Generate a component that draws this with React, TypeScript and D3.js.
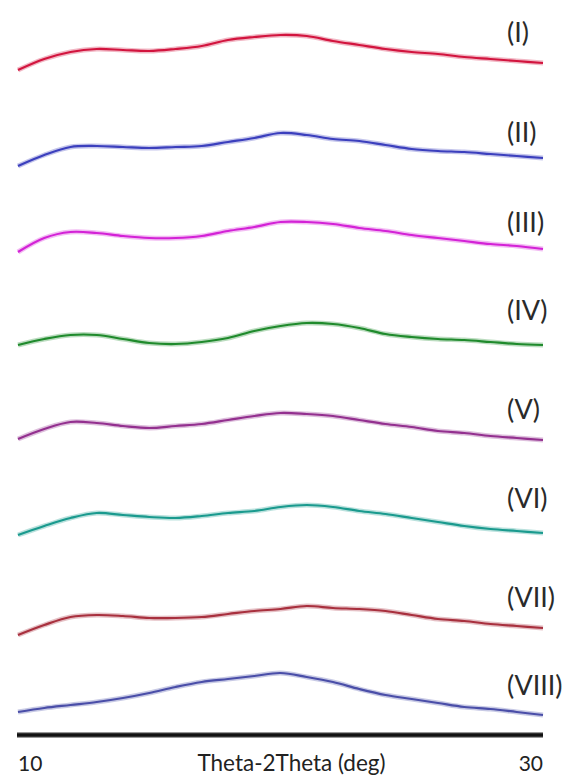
import React from "react";
import * as d3 from "d3";

const twoTheta = [10, 11, 12, 13, 14, 15, 16, 17, 18, 19, 20, 21, 22, 23, 24, 25, 26, 27, 28, 29, 30];

// stacked intensities (a.u.), offset per sample
const sI = [705, 716, 723, 726, 725, 724, 726, 729, 735, 738, 740, 739, 734, 730, 726, 723, 721, 718, 716, 714, 712];
const sII = [609, 620, 628, 629, 628, 627, 628, 629, 633, 637, 642, 640, 636, 634, 630, 626, 624, 623, 621, 619, 617];
const sIII = [523, 537, 543, 542, 539, 537, 537, 539, 544, 548, 553, 553, 551, 547, 544, 540, 537, 534, 531, 529, 526];
const sIV = [430, 436, 440, 440, 436, 432, 431, 433, 437, 444, 449, 452, 451, 447, 441, 438, 436, 435, 433, 431, 430];
const sV = [336, 346, 353, 352, 349, 347, 349, 351, 355, 359, 362, 361, 359, 355, 351, 348, 344, 342, 339, 337, 335];
const sVI = [240, 249, 257, 262, 260, 258, 257, 259, 262, 264, 268, 270, 268, 264, 261, 257, 253, 249, 246, 244, 242];
const sVII = [140, 150, 158, 160, 159, 157, 157, 158, 161, 164, 166, 169, 167, 166, 164, 160, 156, 154, 151, 149, 147];
const sVIII = [63, 67, 70, 73, 77, 82, 88, 93, 96, 99, 102, 98, 93, 86, 80, 76, 72, 68, 66, 63, 60];

const seriesNames = ["(I)", "(II)", "(III)", "(IV)", "(V)", "(VI)", "(VII)", "(VIII)"];
const seriesValues = [sI, sII, sIII, sIV, sV, sVI, sVII, sVIII];
const seriesColors = ["#d2143e", "#3b3fbd", "#d322d6", "#1f8a2c", "#93308f", "#1a9a8e", "#a8303e", "#4a4ea8"];
const labelBaselines = [42, 142, 232, 320, 419, 508, 607, 695];

const xTicks = [10, 30];
const xTitle = "Theta-2Theta (deg)";

export default function App() {
  const W = 564;
  const H = 775;
  const x = d3.scaleLinear().domain([10, 30]).range([18, 543]);
  const y = d3.scaleLinear().domain([0, 775]).range([775, 0]);
  const line = d3
    .line<number>()
    .x((_, i) => x(twoTheta[i]))
    .y((d) => y(d))
    .curve(d3.curveCatmullRom.alpha(0.5));
  const font = "Lato, 'Open Sans', sans-serif";
  return (
    <svg
      width={W}
      height={H}
      style={{ position: "absolute", left: 0, top: 0, background: "#fff" }}
    >
      {seriesValues.map((vals, i) => (
        <g key={i}>
          <path d={line(vals) || ""} fill="none" stroke={seriesColors[i]} strokeOpacity={0.3} strokeWidth={5} />
          <path d={line(vals) || ""} fill="none" stroke={seriesColors[i]} strokeWidth={2.2} />
          <text x={507} y={labelBaselines[i]} fontFamily={font} fontSize={27} fill="#2a2a2a">
            {seriesNames[i]}
          </text>
        </g>
      ))}
      <line x1={x(10) - 1} x2={x(30)} y1={735} y2={735} stroke="#999" strokeWidth={6} />
      <line x1={x(10) - 1} x2={x(30)} y1={735} y2={735} stroke="#111" strokeWidth={3.5} />
      <text x={x(xTicks[0])} y={771} fontFamily={font} fontSize={21} fill="#222" textAnchor="start">
        {xTicks[0]}
      </text>
      <text x={x(xTicks[1])} y={771} fontFamily={font} fontSize={21} fill="#222" textAnchor="end">
        {xTicks[1]}
      </text>
      <text x={x(20) + 11} y={771} fontFamily={font} fontSize={22.5} fill="#222" textAnchor="middle">
        {xTitle}
      </text>
    </svg>
  );
}
